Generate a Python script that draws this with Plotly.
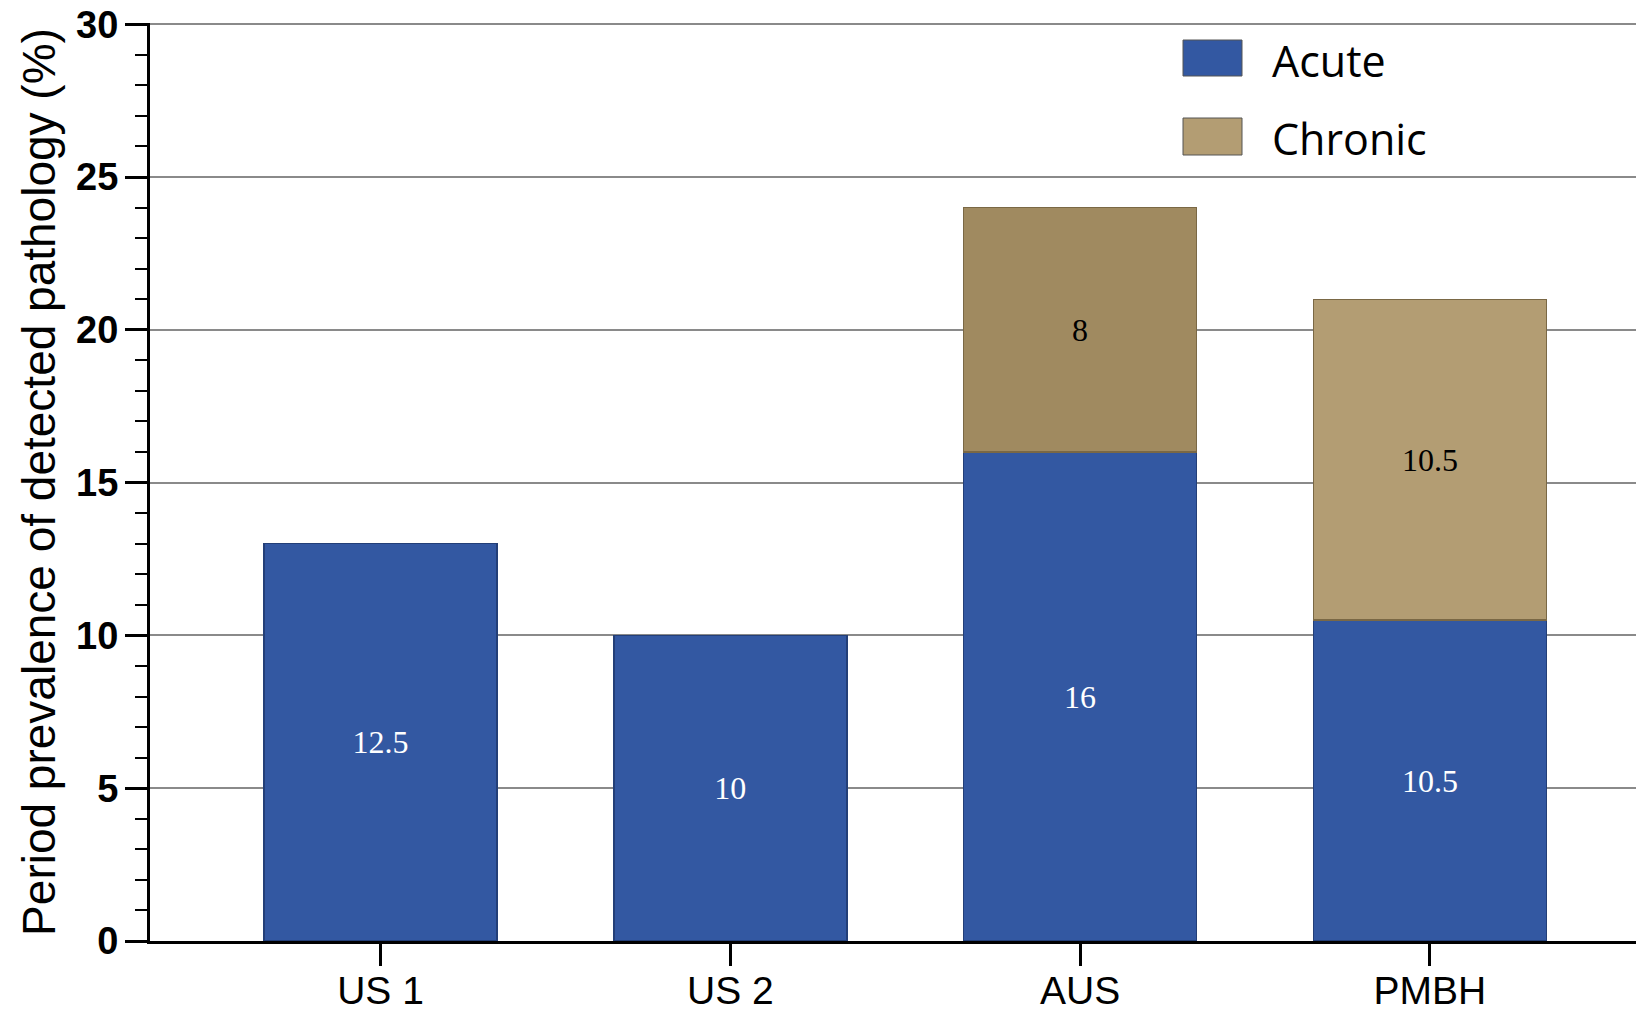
import plotly.graph_objects as go

categories = ["US 1", "US 2", "AUS", "PMBH"]
acute_values = [13, 10, 16, 10.5]
acute_labels = ["12.5", "10", "16", "10.5"]
chronic_values = [None, None, 8, 10.5]
chronic_labels = ["", "", "8", "10.5"]
series_names = ["Acute", "Chronic"]
y_ticks = [0, 5, 10, 15, 20, 25, 30]

acute_color = "#3358A2"
chronic_colors = ["#A08A60", "#A08A60", "#A08A60", "#B39D73"]
legend_colors = [acute_color, "#B39D73"]

# the page body has an 8px margin; compensate so the plot lands where the reference has it
BODY = 8
W, H = 1644 - BODY, 1013 - BODY
ML, MR, MT, MB = 150 - BODY, 0, 23 - BODY, 72

fig = go.Figure()
fig.add_trace(go.Bar(
    x=categories, y=acute_values, name=series_names[0],
    text=acute_labels, textposition="inside", insidetextanchor="middle",
    textangle=0,
    textfont=dict(family="Liberation Serif", size=32, color="white"),
    marker=dict(color=acute_color, line=dict(color="#233f78", width=1.5)),
    showlegend=False,
))
fig.add_trace(go.Bar(
    x=categories, y=chronic_values, name=series_names[1],
    text=chronic_labels, textposition="inside", insidetextanchor="middle",
    textangle=0,
    textfont=dict(family="Liberation Serif", size=32, color="black"),
    marker=dict(color=chronic_colors, line=dict(color="#7a6845", width=1.5)),
    showlegend=False,
))

# custom legend (large swatches), positions given in window pixels
pw = W - ML - MR
ph = H - MT - MB
def px_x(p):
    return (p - BODY - ML) / pw
def px_y(p):
    return (H - MB - (p - BODY)) / ph

legend_rows = [(40, 76), (118, 155)]
for name, col, (top, bot) in zip(series_names, legend_colors, legend_rows):
    fig.add_shape(type="rect", xref="paper", yref="paper",
                  x0=px_x(1183), x1=px_x(1242), y0=px_y(bot), y1=px_y(top),
                  fillcolor=col, line=dict(color="#555555", width=1))
    fig.add_annotation(xref="paper", yref="paper", x=px_x(1270), y=px_y((top + bot) / 2 + 2),
                       text=name, showarrow=False, xanchor="left", yanchor="middle",
                       font=dict(family="Open Sans", size=43, color="black"))

fig.update_layout(
    width=W, height=H,
    margin=dict(l=ML, r=MR, t=MT, b=MB),
    barmode="stack", bargap=0.334,
    plot_bgcolor="white", paper_bgcolor="white",
    font=dict(family="Liberation Sans", color="black"),
)
fig.update_xaxes(
    range=[-0.659, 3.612],
    showline=True, linecolor="black", linewidth=3,
    ticks="outside", ticklen=22, tickwidth=2.5, tickcolor="black",
    ticklabelstandoff=-9,
    tickfont=dict(family="Liberation Sans", size=39, color="black"),
    showgrid=False, zeroline=False,
    automargin=False,
)
fig.update_yaxes(
    range=[0, 30.04], tickvals=y_ticks,
    showline=True, linecolor="black", linewidth=3,
    ticks="outside", ticklen=22, tickwidth=2.5, tickcolor="black",
    ticklabelstandoff=-1, ticklabeloverflow="allow",
    tickfont=dict(family="Liberation Sans", size=38, color="black", weight="bold"),
    minor=dict(ticks="outside", ticklen=12, dtick=1, tickwidth=2, tickcolor="black", showgrid=False),
    showgrid=True, gridcolor="#8a8a8a", gridwidth=2, zeroline=False,
    title=dict(text="Period prevalence of detected pathology (%)",
               font=dict(family="Liberation Sans", size=46, color="black"), standoff=7),
    automargin=False,
)

fig.write_html("out.html")
